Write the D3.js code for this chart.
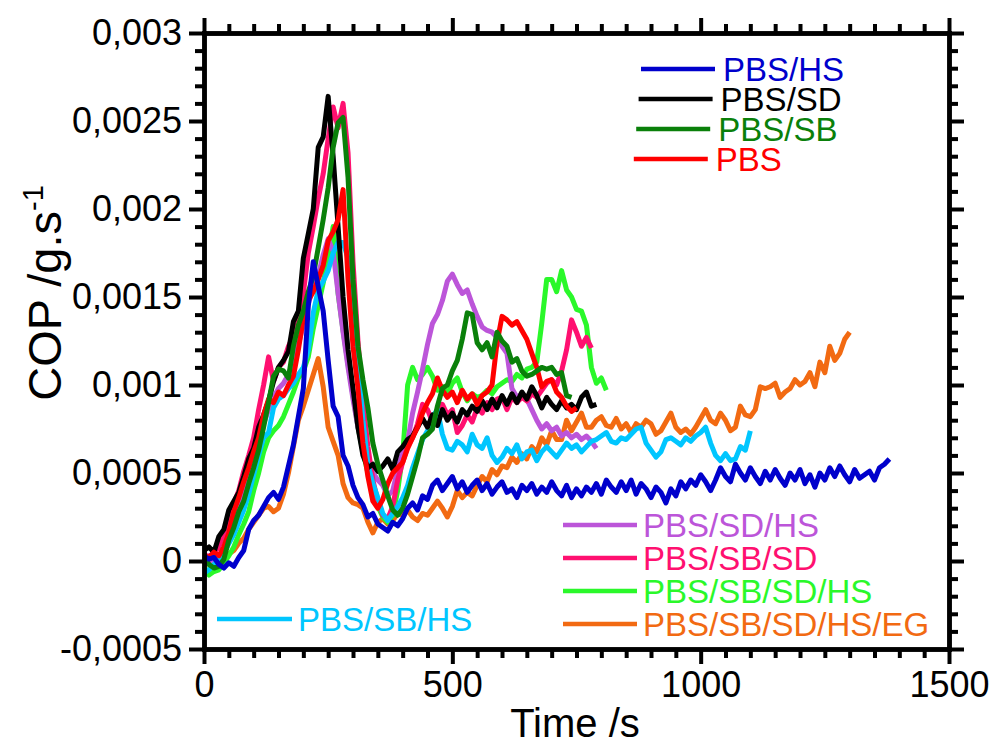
<!DOCTYPE html>
<html>
<head>
<meta charset="utf-8">
<script src="https://cdn.jsdelivr.net/npm/d3@7"></script>
<style>
body { margin: 0; background: #fff; }
svg { display: block; font-family: "Liberation Sans", Arial, sans-serif; }
</style>
</head>
<body>
<svg id="chart"></svg>
<script>
var w = 992;
var h = 742;

// sampling times (s)
var time = [0,10,20,30,40,50,60,70,80,90,100,110,120,130,140,150,160,170,180,190,
  200,210,220,230,240,250,260,270,280,290,300,310,320,330,340,350,360,370,380,390,
  400,410,420,430,440,450,460,470,480,490,500,510,520,530,540,550,560,570,580,590,
  600,610,620,630,640,650,660,670,680,690,700,710,720,730,740,750,760,770,780,790,
  800,810,820,830,840,850,860,870,880,890,900,910,920,930,940,950,960,970,980,990,
  1000,1010,1020,1030,1040,1050,1060,1070,1080,1090,1100,1110,1120,1130,1140,1150,1160,1170,1180,1190,
  1200,1210,1220,1230,1240,1250,1260,1270,1280,1290,1300,1310,1320,1330,1340,1350,1360,1370,1380];

// COP values, in units of 1e-4 g/s
var copPBS_HS = [0.3,0.1,0.2,-0.2,-0.4,-0.1,-0.3,0.2,0.6,1.8,
  2.3,2.6,3.1,3.6,3.9,3.5,4.2,5.4,6.6,8.2,
  9.8,14.5,17.0,15.6,14.2,11.4,8.8,8.2,6.0,5.4,
  4.3,3.6,3.2,2.5,2.7,2.1,1.9,1.7,2.2,2.0,
  2.4,3.0,3.3,2.9,3.7,3.5,4.3,4.6,4.0,4.4,
  4.8,4.1,4.5,3.9,4.3,4.6,4.0,4.4,3.8,4.2,
  4.5,3.9,4.1,3.6,4.3,4.0,4.4,3.8,4.2,3.9,
  4.5,4.0,3.7,4.3,3.6,4.1,3.7,4.2,3.9,4.4,
  3.8,4.6,4.2,3.9,4.5,4.0,4.6,3.8,4.4,4.1,
  3.6,4.2,3.9,3.3,4.1,3.7,4.5,4.1,4.6,4.3,
  4.9,4.5,4.0,4.6,5.3,4.8,4.5,5.5,5.0,4.6,
  5.3,4.8,4.4,5.1,4.6,5.2,4.7,4.3,5.0,4.6,
  5.2,4.4,4.9,4.2,5.0,4.6,5.3,4.8,5.4,4.9,
  4.5,5.2,4.7,4.9,5.1,4.6,5.3,5.5,5.8];

var copPBS_SD = [0.6,0.8,0.5,1.4,1.8,2.9,3.4,3.9,4.8,5.8,
  6.4,7.6,8.3,9.1,10.2,11.0,11.4,11.9,13.6,14.2,
  17.2,18.6,20.0,23.5,24.1,26.4,23.0,19.0,15.0,12.0,
  9.8,7.6,6.0,5.3,5.5,5.1,5.4,5.8,5.2,6.2,
  6.5,6.9,7.1,7.6,8.1,7.6,8.3,7.7,8.6,8.0,
  8.4,7.9,8.6,8.3,8.8,8.5,9.1,8.6,9.2,8.7,
  9.4,8.9,9.5,9.0,9.6,9.2,9.9,9.4,8.7,9.3,
  8.9,8.6,9.1,8.7,8.9,8.6,9.3,9.6,8.8,8.9];

var copPBS_SB = [0.2,-0.2,-0.4,-0.3,0.1,1.2,1.9,2.8,3.4,4.4,
  5.3,6.3,7.6,9.0,10.5,10.9,10.8,10.4,12.2,13.4,
  14.2,15.3,16.2,17.8,19.4,21.2,23.5,24.9,25.2,21.8,
  16.0,12.2,10.3,8.7,6.7,5.5,4.6,3.7,2.9,2.6,
  3.0,3.8,4.8,5.8,7.0,7.2,7.5,8.8,9.8,10.0,
  10.8,11.4,12.6,14.1,14.0,12.4,12.0,12.4,11.6,13.0,
  12.5,12.2,11.3,11.5,10.8,10.5,10.6,10.8,11.0,10.9,
  11.0,10.6,10.7,9.4,9.3];

var copPBS = [0.3,0.2,0.5,0.3,0.8,1.6,2.8,3.6,4.5,5.3,
  6.2,7.0,8.3,9.2,9.0,9.6,9.4,10.0,10.5,12.0,
  13.8,14.8,15.3,16.0,16.8,18.2,18.7,19.4,21.1,16.0,
  12.2,9.8,6.7,4.8,3.4,3.0,3.5,4.4,5.0,5.3,
  5.6,6.4,7.0,7.6,8.4,9.0,9.5,10.4,9.7,9.3,
  9.6,9.0,9.7,9.2,9.5,8.9,9.4,9.6,10.0,12.4,
  13.9,13.7,13.4,13.6,13.1,12.6,11.8,11.0,9.9,10.2,
  10.3,9.6,9.3,8.8,8.5,8.7];

var copPBS_SD_HS = [0.1,0.3,-0.1,0.2,0.6,1.4,2.2,3.1,3.9,4.7,
  5.4,6.6,7.8,8.6,9.3,9.8,10.1,10.6,11.3,12.3,
  13.4,14.6,15.6,16.2,17.4,18.3,17.6,15.2,13.0,11.0,
  9.2,7.6,6.4,5.6,5.0,4.6,4.3,3.7,4.0,5.2,
  6.2,6.8,8.4,9.6,10.9,12.3,13.5,14.0,14.8,15.9,
  16.3,15.7,15.2,15.4,14.6,13.9,13.3,13.1,13.0,12.7,
  12.2,11.8,9.8,9.3,9.5,9.2,8.6,8.0,7.5,7.8,
  7.4,7.6,7.1,7.3,7.0,7.2,6.9,7.1,6.8,6.4];

var copPBS_SB_SD = [0.4,0.2,0.5,0.8,1.5,2.4,3.3,4.0,5.1,6.0,
  7.0,8.6,10.0,11.6,10.2,11.0,11.3,12.2,12.8,13.6,
  15.2,17.5,19.0,20.6,22.0,24.0,25.8,24.6,26.0,23.2,
  17.0,12.5,9.0,6.5,4.6,3.4,2.6,2.4,3.1,4.6,
  5.6,6.5,7.0,7.8,8.9,8.6,7.9,8.4,8.9,8.3,
  8.6,7.3,7.7,8.3,7.9,8.7,8.4,9.0,8.6,9.2,
  9.3,8.6,9.3,9.0,9.3,9.1,9.5,9.3,9.7,10.1,
  10.3,10.0,10.8,12.0,13.7,13.0,12.2,12.7,12.1];

var copPBS_SB_SD_HS = [-0.3,-0.8,-0.6,-0.5,-0.1,0.3,0.8,1.5,2.1,2.8,
  4.0,5.0,6.2,7.0,7.4,7.7,8.2,8.9,9.6,10.4,
  10.8,11.6,13.2,14.5,15.8,17.2,19.0,15.2,13.1,11.2,
  9.4,7.6,6.2,5.0,3.9,3.1,2.5,2.2,2.6,4.0,
  6.0,10.0,11.0,10.3,10.6,11.0,10.5,9.7,9.9,9.5,
  10.1,10.4,9.6,9.1,9.5,9.3,9.4,9.7,9.5,9.9,
  10.1,10.3,10.2,10.6,10.4,10.9,11.0,11.3,13.5,16.0,
  16.0,15.3,16.5,15.4,15.0,14.3,14.2,13.4,11.0,10.1,
  10.4,9.7];

var copPBS_SB_SD_HS_EG = [0.0,-0.2,0.1,-0.3,0.0,0.4,0.6,1.0,1.3,1.8,
  2.2,2.6,3.0,3.1,2.8,3.0,3.8,5.0,6.5,8.0,
  8.8,9.7,10.6,11.5,9.9,7.6,6.8,6.0,4.4,3.6,
  3.3,3.2,3.0,2.2,1.6,2.2,2.4,2.1,2.3,2.7,
  2.6,2.9,2.5,2.3,2.7,2.6,3.0,3.4,3.0,2.5,
  3.1,4.0,3.6,3.9,3.7,4.3,4.8,4.5,5.2,4.9,
  5.4,5.3,5.9,5.6,6.1,5.8,6.5,6.2,7.0,6.6,
  7.4,6.9,6.9,8.0,7.4,7.9,8.4,7.6,7.6,8.0,
  8.2,7.7,7.6,8.1,7.5,7.8,7.3,7.8,7.6,8.0,
  7.8,7.2,7.4,7.9,8.4,7.6,7.3,7.5,7.2,7.6,
  8.1,8.6,8.0,7.8,8.4,8.0,7.4,7.6,8.8,8.3,
  8.2,8.6,9.9,9.8,9.9,10.1,9.3,9.6,9.8,10.3,
  10.0,10.2,10.7,9.9,11.3,10.7,12.2,11.4,11.8,12.6,
  13.0];

var copPBS_SB_HS = [-0.7,-0.5,-0.2,0.1,0.4,1.0,1.5,2.2,2.9,3.8,
  4.9,6.0,7.0,7.3,8.7,9.2,9.4,9.8,10.1,10.6,
  11.0,12.0,14.1,15.4,15.9,16.5,17.5,18.1,18.1,17.2,
  14.1,11.4,8.0,5.5,4.4,3.6,2.7,2.3,2.7,3.1,
  3.6,4.3,5.3,6.1,6.9,7.4,8.2,8.6,7.2,6.4,
  6.3,6.8,6.6,6.2,7.2,6.6,6.4,7.0,6.0,5.6,
  5.9,6.4,6.1,6.6,5.8,6.2,6.3,5.7,6.2,6.5,
  6.2,5.9,6.3,6.7,6.4,6.6,6.2,6.5,6.8,6.9,
  7.1,7.3,6.8,6.7,7.0,6.9,7.2,7.5,7.6,6.7,
  6.3,5.9,6.2,6.9,7.0,6.8,6.6,7.0,6.8,7.1,
  7.3,7.6,6.7,6.0,5.7,6.1,5.7,5.8,6.5,6.3,
  7.4];

var seriesNames = ['PBS/HS','PBS/SD','PBS/SB','PBS','PBS/SD/HS','PBS/SB/SD','PBS/SB/SD/HS','PBS/SB/SD/HS/EG','PBS/SB/HS'];
var seriesValues = [copPBS_HS, copPBS_SD, copPBS_SB, copPBS, copPBS_SD_HS, copPBS_SB_SD, copPBS_SB_SD_HS, copPBS_SB_SD_HS_EG, copPBS_SB_HS];
var seriesColors = ['#0000cc','#000000','#0a800a','#ff0000','#bc55d9','#ff1070','#2af82a','#f26a12','#00c6ff'];
// drawing order, bottom first
var drawOrder = [7, 6, 4, 5, 8, 1, 3, 2, 0];

var xMajor = [0, 500, 1000, 1500];
var xTickLabels = ['0', '500', '1000', '1500'];
var yMajor = [-5, 0, 5, 10, 15, 20, 25, 30];
var yTickLabels = ['-0,0005', '0', '0,0005', '0,001', '0,0015', '0,002', '0,0025', '0,003'];

var topLegend = [0, 1, 2, 3];
var bottomLegend = [4, 5, 6, 7];

var svg = d3.select('#chart').attr('width', w).attr('height', h);

var x = d3.scaleLinear().domain([0, 1500]).range([204, 949]);
var y = d3.scaleLinear().domain([-5, 30]).range([649, 33]);

var xMinor = d3.range(0, 1501, 50).filter(function (d) { return d % 500 !== 0 });
var yMinor = d3.range(-5, 31, 1).filter(function (d) { return d % 5 !== 0 });

var font = '"Liberation Sans", Arial, sans-serif';

function styleAxis(g) {
  g.attr('font-family', font).attr('font-size', 36);
  g.select('.domain').attr('stroke-width', 4.5).attr('stroke-linecap', 'square');
  g.selectAll('.tick line').attr('stroke-width', 4);
  g.selectAll('.tick text').attr('fill', '#000');
}

function addAxis(axisFn, scale, major, labels, minor, tx, ty) {
  var gMinor = svg.append('g').attr('transform', 'translate(' + tx + ',' + ty + ')')
    .call(axisFn(scale).tickValues(minor).tickFormat('').tickSize(9).tickSizeOuter(0));
  styleAxis(gMinor);
  var gMajor = svg.append('g').attr('transform', 'translate(' + tx + ',' + ty + ')')
    .call(axisFn(scale).tickValues(major).tickSize(15).tickSizeOuter(0).tickPadding(7)
      .tickFormat(function (d, i) { return labels ? labels[i] : '' }));
  styleAxis(gMajor);
}

// lines first, axes on top
var line = d3.line()
  .x(function (d) { return x(d[0]) })
  .y(function (d) { return y(d[1]) });

var plot = svg.append('g');
drawOrder.forEach(function (k) {
  var vals = seriesValues[k];
  var pts = vals.map(function (v, i) { return [time[i], v] });
  plot.append('path')
    .datum(pts)
    .attr('fill', 'none')
    .attr('stroke', seriesColors[k])
    .attr('stroke-width', 5)
    .attr('stroke-linejoin', 'round')
    .attr('d', line);
});

addAxis(d3.axisBottom, x, xMajor, xTickLabels, xMinor, 0, y(-5));
addAxis(d3.axisTop, x, xMajor, null, xMinor, 0, y(30));
addAxis(d3.axisLeft, y, yMajor, yTickLabels, yMinor, x(0), 0);
addAxis(d3.axisRight, y, yMajor, null, yMinor, x(1500), 0);

// axis titles
svg.append('text')
  .attr('x', 575).attr('y', 737)
  .attr('text-anchor', 'middle')
  .attr('font-size', 40)
  .text('Time /s');

var yTitle = svg.append('text')
  .attr('transform', 'translate(61,293) rotate(-90)')
  .attr('text-anchor', 'middle')
  .attr('font-size', 47);
yTitle.append('tspan').text('COP /g.s');
yTitle.append('tspan').attr('dy', -18).attr('font-size', 29).text('-1');

// legends
var leg = svg.append('g').attr('font-size', 33);

topLegend.forEach(function (k, i) {
  var lx = 641 - i * 2.4;
  var ly = 69 + i * 30;
  leg.append('line').attr('x1', lx).attr('x2', lx + 74).attr('y1', ly).attr('y2', ly)
    .attr('stroke', seriesColors[k]).attr('stroke-width', 4.5);
  leg.append('text').attr('x', lx + 82).attr('y', ly + 12).attr('fill', seriesColors[k]).text(seriesNames[k]);
});

bottomLegend.forEach(function (k, i) {
  var ly = 525 + i * 33;
  leg.append('line').attr('x1', 563).attr('x2', 637).attr('y1', ly).attr('y2', ly)
    .attr('stroke', seriesColors[k]).attr('stroke-width', 4.5);
  leg.append('text').attr('x', 643).attr('y', ly + 12).attr('fill', seriesColors[k]).text(seriesNames[k]);
});

leg.append('line').attr('x1', 217).attr('x2', 292).attr('y1', 619).attr('y2', 619)
  .attr('stroke', seriesColors[8]).attr('stroke-width', 4.5);
leg.append('text').attr('x', 298).attr('y', 631).attr('fill', seriesColors[8]).text(seriesNames[8]);
</script>
</body>
</html>
